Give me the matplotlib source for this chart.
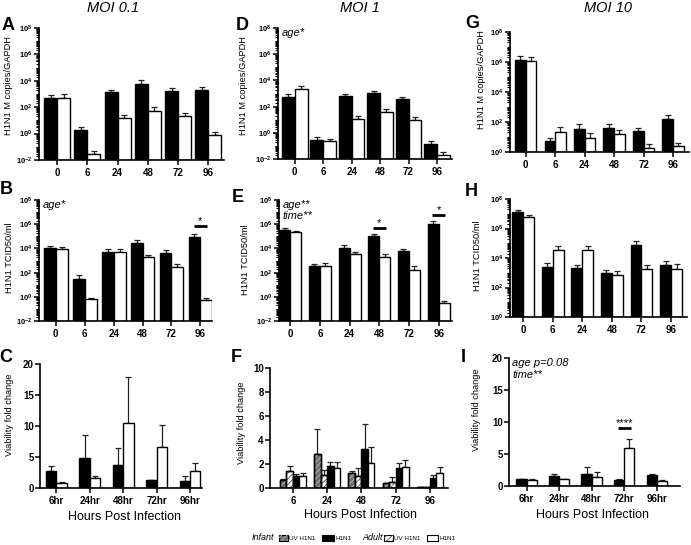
import numpy as np
import matplotlib
matplotlib.use('Agg')
import matplotlib.pyplot as plt
from matplotlib.patches import Rectangle
from matplotlib.ticker import FixedLocator, LogLocator, NullFormatter

plt.rcParams['font.family'] = ['Liberation Sans', 'DejaVu Sans']
plt.rcParams['mathtext.fontset'] = 'custom'
plt.rcParams['mathtext.rm'] = 'Liberation Sans'
plt.rcParams['mathtext.bf'] = 'Liberation Sans:bold'
plt.rcParams['mathtext.it'] = 'Liberation Sans:italic'
plt.rcParams['hatch.linewidth'] = 0.6

# ---- data ----
hours_log = ['0', '6', '24', '48', '72', '96']
hours_hr = ['6hr', '24hr', '48hr', '72hr', '96hr']
hours_f = ['6', '24', '48', '72', '96']

# A: MOI 0.1, M copies/GAPDH
a_inf = [460, 1.9, 1400, 6000, 1650, 1950]
a_inf_err = [450, 1.0, 550, 4700, 980, 1600]
a_ad = [510, 0.029, 15, 52, 20, 0.72]
a_ad_err = [510, 0.022, 12, 53, 16, 0.66]
# B: MOI 0.1, TCID50/ml
b_inf = [11200, 32, 4600, 25700, 4100, 85000]
b_inf_err = [4300, 37, 4100, 23000, 2700, 77000]
b_ad = [9300, 0.63, 4600, 1800, 300, 0.51]
b_ad_err = [4200, 0.22, 4100, 950, 200, 0.3]
# C: MOI 0.1 viability
c_inf = [2.76, 4.86, 3.78, 1.30, 1.08]
c_inf_err = [0.81, 3.68, 2.65, 0.05, 0.81]
c_ad = [0.81, 1.57, 10.49, 6.54, 2.81]
c_ad_err = [0.09, 0.38, 7.41, 3.62, 1.29]
# D: MOI 1, M copies/GAPDH
d_inf = [540, 0.30, 600, 1020, 380, 0.14]
d_inf_err = [370, 0.2, 270, 640, 160, 0.09]
d_ad = [2200, 0.25, 11, 36, 9, 0.021]
d_ad_err = [1800, 0.09, 9, 30, 7, 0.015]
# E: MOI 1, TCID50/ml
e_inf = [3.2e5, 360, 11200, 98000, 5900, 9.5e5]
e_inf_err = [1.9e5, 200, 7400, 52000, 2800, 8.5e5]
e_ad = [2.1e5, 360, 3300, 2100, 180, 0.29]
e_ad_err = [0.6e5, 240, 1900, 1200, 160, 0.17]
# F: MOI 1 viability (UV and live virus)
f_inf_uv = [0.67, 2.80, 1.25, 0.38, 0.08]
f_inf_uv_err = [0.11, 2.10, 0.20, 0.07, 0.02]
f_ad_uv = [1.39, 1.10, 1.00, 0.50, 0.07]
f_ad_uv_err = [0.44, 0.40, 0.65, 0.40, 0.02]
f_inf = [1.03, 1.80, 3.25, 1.65, 0.85]
f_inf_err = [0.14, 0.40, 2.05, 0.45, 0.27]
f_ad = [1.03, 1.65, 2.05, 1.78, 1.25]
f_ad_err = [0.19, 0.55, 1.40, 0.52, 0.50]
# G: MOI 10, M copies/GAPDH
g_inf = [1.3e6, 5.1, 36, 42, 24, 166]
g_inf_err = [1.1e6, 3.4, 42, 36, 16, 144]
g_ad = [1.1e6, 21, 8.5, 16.6, 1.95, 2.5]
g_ad_err = [0.9e6, 26, 10, 11, 1.3, 1.7]
# H: MOI 10, TCID50/ml
h_inf = [1.26e7, 2450, 2100, 950, 72000, 3200]
h_inf_err = [0.44e7, 2150, 1450, 600, 63000, 3400]
h_ad = [5.75e6, 33000, 33000, 660, 1800, 1900]
h_ad_err = [2.55e6, 36000, 36000, 600, 1400, 2000]
# I: MOI 10 viability
i_inf = [1.05, 1.57, 1.83, 1.00, 1.68]
i_inf_err = [0.10, 0.26, 1.21, 0.05, 0.26]
i_ad = [1.00, 1.05, 1.47, 5.97, 0.79]
i_ad_err = [0.10, 0.05, 0.78, 1.31, 0.20]

W, H = 691, 545
fig = plt.figure(figsize=(W / 100, H / 100), dpi=100)


def px_axes(l, t, r, b):
    return fig.add_axes([l / W, 1 - b / H, (r - l) / W, (b - t) / H])


def ftext(x, y, s, **kw):
    fig.text(x / W, 1 - y / H, s, **kw)


def style(ax, ysize=5.5):
    for s in ['top', 'right']:
        ax.spines[s].set_visible(False)
    for s in ['left', 'bottom']:
        ax.spines[s].set_linewidth(1.2)
    ax.tick_params(which='major', direction='out', length=3.5, width=1.1)
    ax.tick_params(which='minor', direction='out', length=2, width=0.8)
    ax.tick_params(axis='x', labelsize=7, pad=2)
    ax.tick_params(axis='y', labelsize=ysize, pad=1)
    for lbl in ax.get_xticklabels() + ax.get_yticklabels():
        lbl.set_fontweight('bold')


def draw_bars(ax, x, vals, errs, width, fc, base=0.0, hatch=None, hc='black'):
    vals = np.array(vals, dtype=float)
    errs = np.array(errs, dtype=float)
    ax.bar(x, vals - base, width, bottom=base, color=fc, edgecolor='black',
           linewidth=1.0, zorder=2)
    if hatch:
        ax.bar(x, vals - base, width, bottom=base, color='none', edgecolor=hc,
               hatch=hatch, linewidth=0, zorder=2)
        ax.bar(x, vals - base, width, bottom=base, color='none', edgecolor='black',
               linewidth=1.0, zorder=2)
    ax.errorbar(x, vals, yerr=[np.zeros_like(vals), errs], fmt='none',
                ecolor='#222222', elinewidth=0.9, capsize=2.5, capthick=0.9, zorder=1)


def log_panel(box, inf, inf_err, ad, ad_err, lo, width, xlim):
    ax = px_axes(*box)
    ax.set_yscale('log')
    x = np.arange(len(inf))
    base = 10.0 ** lo
    draw_bars(ax, x - width / 2, inf, inf_err, width, 'black', base)
    draw_bars(ax, x + width / 2, ad, ad_err, width, 'white', base)
    ax.set_ylim(base, 1e8)
    ax.set_xlim(*xlim)
    majors = [10.0 ** k for k in range(lo, 9, 2)]
    ax.yaxis.set_major_locator(FixedLocator(majors))
    ax.yaxis.set_minor_locator(LogLocator(base=10, subs=np.arange(1, 10), numticks=30))
    ax.yaxis.set_minor_formatter(NullFormatter())
    ax.set_yticklabels([r'$\mathbf{10^{%d}}$' % k for k in range(lo, 9, 2)])
    ax.set_xticks(x)
    ax.set_xticklabels(hours_log)
    style(ax)
    return ax


def lin_panel(box, inf, inf_err, ad, ad_err, top, step, width, xlim):
    ax = px_axes(*box)
    x = np.arange(len(inf))
    draw_bars(ax, x - width / 2, inf, inf_err, width, 'black')
    draw_bars(ax, x + width / 2, ad, ad_err, width, 'white')
    ax.set_ylim(0, top)
    ax.set_xlim(*xlim)
    ax.set_yticks(np.arange(0, top + 0.1, step))
    ax.set_xticks(x)
    ax.set_xticklabels(hours_hr)
    style(ax, ysize=7)
    return ax


def sig(ax, xc, y, text, half=0.22):
    ax.plot([xc - half, xc + half], [y, y], color='black', lw=2, solid_capstyle='butt')
    ax.text(xc, y, text, ha='center', va='bottom', fontsize=8)


it = dict(fontsize=8, style='italic', ha='left', va='top')

# row 1
axA = log_panel((39, 28, 224, 160), a_inf, a_inf_err, a_ad, a_ad_err, -2, 0.43, (-0.6, 5.52))
axD = log_panel((278, 28, 452, 159), d_inf, d_inf_err, d_ad, d_ad_err, -2, 0.45, (-0.59, 5.53))
axG = log_panel((510, 32, 689, 152), g_inf, g_inf_err, g_ad, g_ad_err, 0, 0.36, (-0.53, 5.54))
axD.text(0.02, 1.0, 'age*', transform=axD.transAxes, **it)

# row 2
axB = log_panel((39, 200, 212, 321), b_inf, b_inf_err, b_ad, b_ad_err, -2, 0.41, (-0.58, 5.4))
axE = log_panel((279, 200, 452, 321), e_inf, e_inf_err, e_ad, e_ad_err, -2, 0.37, (-0.38, 5.45))
axH = log_panel((510, 199, 687, 317), h_inf, h_inf_err, h_ad, h_ad_err, 0, 0.37, (-0.45, 5.54))
axB.text(0.02, 1.0, 'age*', transform=axB.transAxes, **it)
axE.text(0.02, 1.0, 'age**\ntime**', transform=axE.transAxes, linespacing=1.1, **it)
sig(axB, 5, 7e5, '*')
sig(axE, 3, 4.5e5, '*')
sig(axE, 5, 5.8e6, '*')

# row 3
axC = lin_panel((40, 364, 202, 488), c_inf, c_inf_err, c_ad, c_ad_err, 20, 5, 0.31, (-0.49, 4.36))
axI = lin_panel((509, 358, 680, 486), i_inf, i_inf_err, i_ad, i_ad_err, 20, 5, 0.31, (-0.54, 4.72))
axI.text(0.02, 1.0, 'age p=0.08\ntime**', transform=axI.transAxes, linespacing=1.2, **it)
sig(axI, 3, 9.1, '****', half=0.2)

axF = px_axes(270, 368, 448, 488)
xf = np.arange(len(f_inf))
wf = 0.19
draw_bars(axF, xf - 1.5 * wf, f_inf_uv, f_inf_uv_err, wf, '#6e6e6e', hatch='//////', hc='#bbbbbb')
draw_bars(axF, xf - 0.5 * wf, f_ad_uv, f_ad_uv_err, wf, 'white', hatch='//////', hc='#555555')
draw_bars(axF, xf + 0.5 * wf, f_inf, f_inf_err, wf, 'black')
draw_bars(axF, xf + 1.5 * wf, f_ad, f_ad_err, wf, 'white')
axF.set_ylim(0, 10)
axF.set_xlim(-0.67, 4.53)
axF.set_yticks(np.arange(0, 10.1, 2))
axF.set_xticks(xf)
axF.set_xticklabels(hours_f)
style(axF, ysize=7)

# axis labels
ylab = dict(rotation=90, ha='center', va='center', fontsize=6.7)
ftext(9, 86, 'H1N1 M copies/GAPDH', **ylab)
ftext(243, 86, 'H1N1 M copies/GAPDH', **ylab)
ftext(482, 80, 'H1N1 M copies/GAPDH', **ylab)
ftext(10, 258, 'H1N1 TCID50/ml', **ylab)
ftext(245, 260, 'H1N1 TCID50/ml', **ylab)
ftext(478, 256, 'H1N1 TCID50/ml', **ylab)
ftext(10, 415, 'Viability fold change', **ylab)
ftext(242, 423, 'Viability fold change', **ylab)
ftext(477, 410, 'Viability fold change', **ylab)

xlab = dict(ha='center', va='center', fontsize=9)
ftext(125, 517, 'Hours Post Infection', **xlab)
ftext(360, 515, 'Hours Post Infection', **xlab)
ftext(592, 515, 'Hours Post Infection', **xlab)

# column titles
tt = dict(ha='center', va='center', fontsize=10.5, style='italic')
ftext(113, 8, 'MOI 0.1', **tt)
ftext(360, 8, 'MOI 1', **tt)
ftext(608, 8, 'MOI 10', **tt)

# panel letters
pl = dict(ha='center', va='center', fontsize=13, fontweight='bold')
for lt, (x, y) in {'A': (8, 26), 'D': (242, 26), 'G': (472, 23),
                   'B': (6, 190), 'E': (238, 198), 'H': (471, 191),
                   'C': (6, 358), 'F': (236, 358), 'I': (463, 358)}.items():
    ftext(x, y, lt, **pl)

# legend
ly = 538


def lpatch(x, w, fc, hatch=None, hc='black'):
    r = Rectangle((x / W, 1 - (ly + 3) / H), w / W, 6 / H, transform=fig.transFigure,
                  facecolor=fc, edgecolor='black', linewidth=0.8)
    fig.add_artist(r)
    if hatch:
        r2 = Rectangle((x / W, 1 - (ly + 3) / H), w / W, 6 / H, transform=fig.transFigure,
                       facecolor='none', edgecolor=hc, hatch=hatch, linewidth=0)
        fig.add_artist(r2)


small = dict(fontsize=4.5, ha='left', va='center')
ftext(252, ly, 'Infant', fontsize=6.5, style='italic', ha='left', va='center')
lpatch(279, 9, '#6e6e6e', '//////', '#bbbbbb')
ftext(289, ly, 'UV H1N1', **small)
lpatch(322, 12, 'black')
ftext(335, ly, 'H1N1', **small)
ftext(362, ly, 'Adult', fontsize=6.5, style='italic', ha='left', va='center')
lpatch(384, 9, 'white', '//////', '#555555')
ftext(394, ly, 'UV H1N1', **small)
lpatch(427, 11, 'white')
ftext(439, ly, 'H1N1', **small)

fig.savefig('out.png', dpi=100)
